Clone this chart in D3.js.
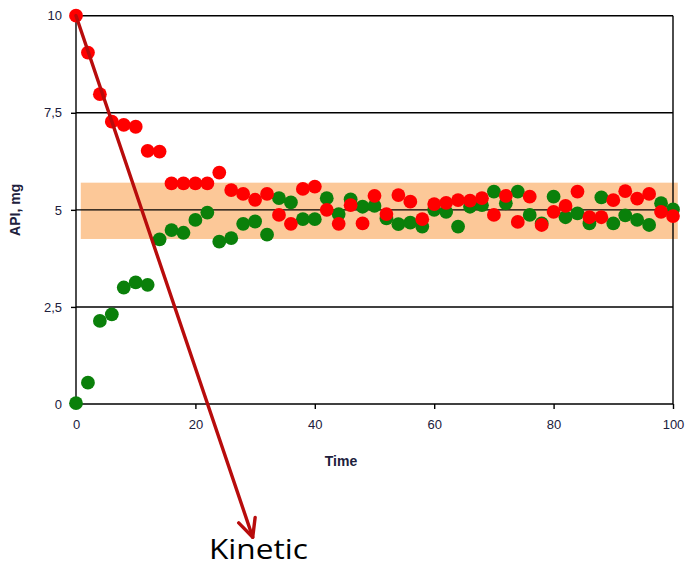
<!DOCTYPE html>
<html>
<head>
<meta charset="utf-8">
<script src="https://cdn.jsdelivr.net/npm/d3@7/dist/d3.min.js"></script>
<style>
  html, body { margin: 0; padding: 0; background: #fff; }
  svg { display: block; }
</style>
</head>
<body>
<div id="chart"></div>
<script>
// Sampling times (every 2 time units)
const times = d3.range(0, 101, 2);

// API content of the two series, mg
const redValues = [
  10, 9.05, 7.98, 7.27, 7.19, 7.14, 6.52, 6.50, 5.68, 5.68,
  5.68, 5.68, 5.96, 5.51, 5.41, 5.26, 5.41, 4.87, 4.64, 5.54,
  5.60, 5.00, 4.64, 5.12, 4.65, 5.36, 4.89, 5.38, 5.21, 4.76,
  5.15, 5.18, 5.25, 5.24, 5.30, 4.87, 5.36, 4.69, 5.34, 4.61,
  4.95, 5.10, 5.47, 4.81, 4.81, 5.25, 5.48, 5.29, 5.41, 4.95,
  4.84
];
const greenValues = [
  0.02, 0.55, 2.14, 2.31, 3.00, 3.13, 3.07, 4.24, 4.48, 4.41,
  4.74, 4.93, 4.18, 4.27, 4.64, 4.70, 4.36, 5.30, 5.19, 4.76,
  4.76, 5.30, 4.89, 5.27, 5.08, 5.10, 4.78, 4.63, 4.67, 4.57,
  5.00, 4.95, 4.57, 5.08, 5.12, 5.47, 5.17, 5.47, 4.87, 4.65,
  5.34, 4.81, 4.91, 4.65, 5.32, 4.65, 4.86, 4.74, 4.61, 5.17,
  5.01
];

// Acceptance band (time span and value span)
const bandTime = [0.8, 100.8];
const bandValue = [4.25, 5.70];

// Axis ticks and labels
const yTicks = [0, 2.5, 5, 7.5, 10];
const yTickLabels = ["0", "2,5", "5", "7,5", "10"];
const xTicks = [0, 20, 40, 60, 80, 100];

// Kinetic trend arrow, in data units (start, end)
const arrowStart = [0, 10];
const arrowEnd = [29.6, -3.43];

const W = 688, H = 567;
const x = d3.scaleLinear().domain([0, 100]).range([76, 673]);
const y = d3.scaleLinear().domain([0, 10]).range([404, 15.7]);

const svg = d3.select("#chart").append("svg")
  .attr("width", W).attr("height", H);

const labelColor = "#20203c";
const labelFont = "Liberation Sans, Arial, sans-serif";

// Band
svg.append("rect")
  .attr("x", x(bandTime[0]))
  .attr("y", y(bandValue[1]))
  .attr("width", x(bandTime[1]) - x(bandTime[0]))
  .attr("height", y(bandValue[0]) - y(bandValue[1]))
  .attr("fill", "#fcc898");

// Horizontal grid lines
svg.append("g").selectAll("line")
  .data(yTicks.filter(d => d > 0))
  .join("line")
  .attr("x1", x(0)).attr("x2", x(100))
  .attr("y1", d => y(d)).attr("y2", d => y(d))
  .attr("stroke", "#000").attr("stroke-width", 1.4);

// Right border
svg.append("line")
  .attr("x1", x(100)).attr("x2", x(100))
  .attr("y1", y(10)).attr("y2", y(0))
  .attr("stroke", "#000").attr("stroke-width", 1.4);

// Y axis
const yAxis = d3.axisLeft(y)
  .tickValues(yTicks)
  .tickFormat((d, i) => yTickLabels[i])
  .tickSize(5).tickPadding(9);
const gy = svg.append("g").attr("transform", `translate(${x(0)},0)`).call(yAxis);
gy.select(".domain").attr("stroke", "#000").attr("stroke-width", 1.4)
  .attr("d", `M0,${y(10)}V${y(0)}`);
gy.selectAll(".tick line").attr("stroke", "#000").attr("stroke-width", 1.4);
gy.selectAll(".tick text")
  .attr("fill", labelColor)
  .style("font-family", labelFont).style("font-size", "13px");

// X axis
const xAxis = d3.axisBottom(x).tickValues(xTicks).tickSize(5).tickPadding(11);
const gx = svg.append("g").attr("transform", `translate(0,${y(0)})`).call(xAxis);
gx.select(".domain").attr("stroke", "#000").attr("stroke-width", 1.4)
  .attr("d", `M${x(0)},0H${x(100)}`);
gx.selectAll(".tick line").attr("stroke", "#000").attr("stroke-width", 1.4);
gx.selectAll(".tick text")
  .attr("fill", labelColor)
  .style("font-family", labelFont).style("font-size", "13px");

// Axis titles
svg.append("text")
  .attr("x", 341).attr("y", 466)
  .attr("text-anchor", "middle")
  .attr("fill", labelColor)
  .style("font-family", labelFont).style("font-size", "14px").style("font-weight", "bold")
  .text("Time");

svg.append("text")
  .attr("transform", `translate(20,${y(5)}) rotate(-90)`)
  .attr("text-anchor", "middle")
  .attr("fill", labelColor)
  .style("font-family", labelFont).style("font-size", "14px").style("font-weight", "bold")
  .text("API, mg");

// Points: green series first, red on top
const r = 6.9;
svg.append("g").selectAll("circle")
  .data(times.map((t, i) => [t, greenValues[i]]))
  .join("circle")
  .attr("cx", d => x(d[0])).attr("cy", d => y(d[1]))
  .attr("r", r).attr("fill", "#0a800a");

svg.append("g").selectAll("circle")
  .data(times.map((t, i) => [t, redValues[i]]))
  .join("circle")
  .attr("cx", d => x(d[0])).attr("cy", d => y(d[1]))
  .attr("r", r).attr("fill", "#ff0000");

// Kinetic arrow
const ax1 = x(arrowStart[0]), ay1 = y(arrowStart[1]);
const ax2 = x(arrowEnd[0]), ay2 = y(arrowEnd[1]);
const ang = Math.atan2(ay2 - ay1, ax2 - ax1);
const headLen = 20, headAng = Math.PI / 7;
const arrow = svg.append("g")
  .attr("stroke", "#b80c0c").attr("stroke-width", 3.4)
  .attr("fill", "none").attr("stroke-linecap", "round").attr("stroke-linejoin", "round");
arrow.append("line")
  .attr("x1", ax1).attr("y1", ay1).attr("x2", ax2).attr("y2", ay2);
arrow.append("path")
  .attr("d", d3.line()([
    [ax2 - headLen * Math.cos(ang - headAng), ay2 - headLen * Math.sin(ang - headAng)],
    [ax2, ay2],
    [ax2 - headLen * Math.cos(ang + headAng), ay2 - headLen * Math.sin(ang + headAng)]
  ]));

// Label
svg.append("text")
  .attr("transform", "translate(209,559) scale(1.13,1)")
  .attr("fill", "#000")
  .style("font-family", "'Open Sans', Lato, sans-serif").style("font-size", "28px")
  .text("Kinetic");
</script>
</body>
</html>
